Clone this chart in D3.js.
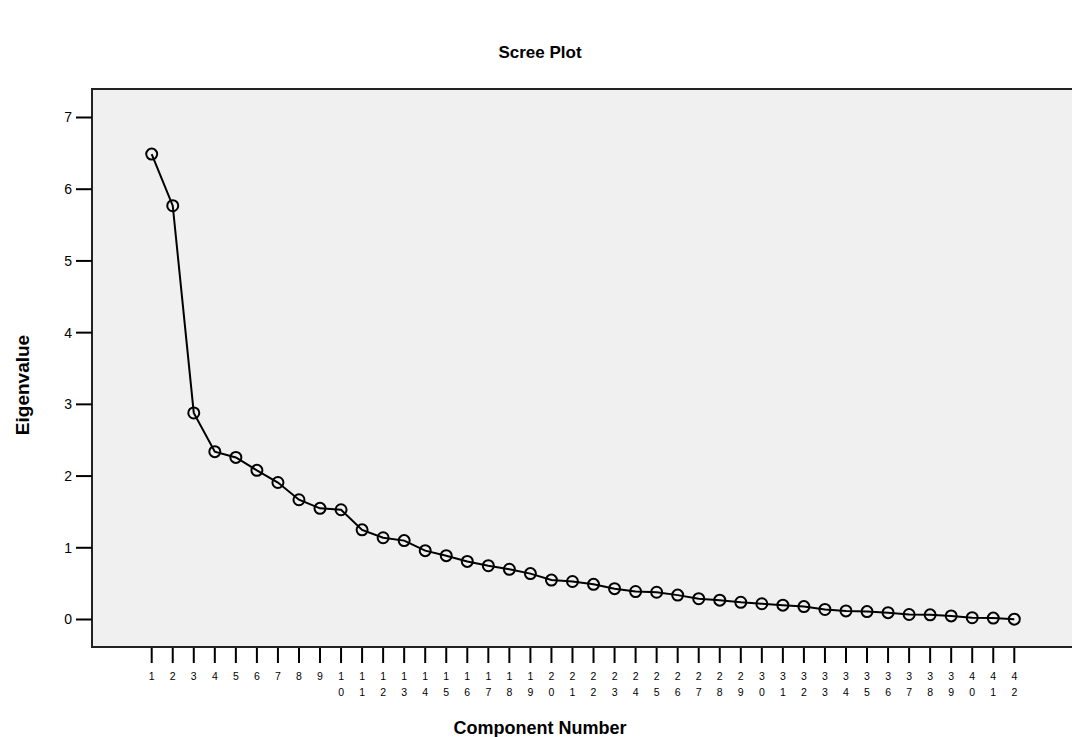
<!DOCTYPE html>
<html>
<head>
<meta charset="utf-8" />
<script src="https://d3js.org/d3.v7.min.js"></script>
<style>
    body { margin: 0; background: #fff; }
    text { font-family: "Liberation Sans", Arial, sans-serif; fill: #000; }
    .title { font-weight: bold; font-size: 17px; }
    .axis-title { font-weight: bold; font-size: 18px; }
</style>
</head>
<body>
<svg id="chart" width="1072" height="737"></svg>
<script>
    var components = d3.range(1, 43);
    var eigenvalues = [6.49, 5.77, 2.88, 2.34, 2.26, 2.08, 1.91, 1.67, 1.55, 1.53,
                       1.25, 1.14, 1.10, 0.96, 0.89, 0.81, 0.75, 0.70, 0.64, 0.55,
                       0.53, 0.49, 0.43, 0.39, 0.38, 0.34, 0.29, 0.27, 0.24, 0.22,
                       0.20, 0.18, 0.14, 0.12, 0.11, 0.095, 0.07, 0.065, 0.05, 0.025,
                       0.02, 0.005];
    var yTicks = [0, 1, 2, 3, 4, 5, 6, 7];

    var svg = d3.select("#chart");
    var box = {left: 92, top: 89, right: 1080, bottom: 647};

    var x = d3.scaleLinear().domain([1, 42]).range([151.7, 1014.3]);
    var y = d3.scaleLinear().domain([0, 7]).range([619.5, 117.5]);

    svg.append("rect")
        .attr("x", box.left).attr("y", box.top)
        .attr("width", box.right - box.left).attr("height", box.bottom - box.top)
        .attr("fill", "#f0f0f0")
        .attr("stroke", "#222").attr("stroke-width", 2);

    // y axis ticks
    var yAxis = svg.append("g");
    yAxis.selectAll("line").data(yTicks).enter().append("line")
        .attr("x1", 76).attr("x2", box.left)
        .attr("y1", function(d) { return y(d); })
        .attr("y2", function(d) { return y(d); })
        .attr("stroke", "#000").attr("stroke-width", 2);
    yAxis.selectAll("text").data(yTicks).enter().append("text")
        .attr("x", 72)
        .attr("y", function(d) { return y(d); })
        .attr("dy", "0.35em")
        .attr("text-anchor", "end")
        .attr("font-size", 14)
        .text(function(d) { return d; });

    // x axis ticks
    var xAxis = svg.append("g");
    xAxis.selectAll("line").data(components).enter().append("line")
        .attr("x1", function(d) { return x(d); })
        .attr("x2", function(d) { return x(d); })
        .attr("y1", 648).attr("y2", 663)
        .attr("stroke", "#000").attr("stroke-width", 2);
    xAxis.selectAll("text").data(components).enter().append("text")
        .attr("text-anchor", "middle")
        .attr("font-size", 10.5)
        .each(function(d) {
            var t = d3.select(this);
            String(d).split("").forEach(function(ch, i) {
                t.append("tspan")
                    .attr("x", x(d))
                    .attr("y", 680 + i * 16)
                    .text(ch);
            });
        });

    // line and markers
    var line = d3.line()
        .x(function(d, i) { return x(components[i]); })
        .y(function(d) { return y(d); });

    svg.append("path")
        .datum(eigenvalues)
        .attr("d", line)
        .attr("fill", "none")
        .attr("stroke", "#000")
        .attr("stroke-width", 2);

    svg.selectAll(".pt").data(eigenvalues).enter().append("circle")
        .attr("class", "pt")
        .attr("cx", function(d, i) { return x(components[i]); })
        .attr("cy", function(d) { return y(d); })
        .attr("r", 5.5)
        .attr("fill", "none")
        .attr("stroke", "#000")
        .attr("stroke-width", 2);

    svg.append("text").attr("class", "title")
        .attr("x", 540).attr("y", 58)
        .attr("text-anchor", "middle")
        .text("Scree Plot");

    svg.append("text").attr("class", "axis-title")
        .attr("x", 540).attr("y", 734)
        .attr("text-anchor", "middle")
        .text("Component Number");

    svg.append("text").attr("class", "axis-title")
        .attr("transform", "translate(29,385) rotate(-90)")
        .attr("text-anchor", "middle")
        .style("font-family", "'Liberation Sans Narrow', 'Liberation Sans', sans-serif")
        .style("font-size", "19px")
        .text("Eigenvalue");
</script>
</body>
</html>
